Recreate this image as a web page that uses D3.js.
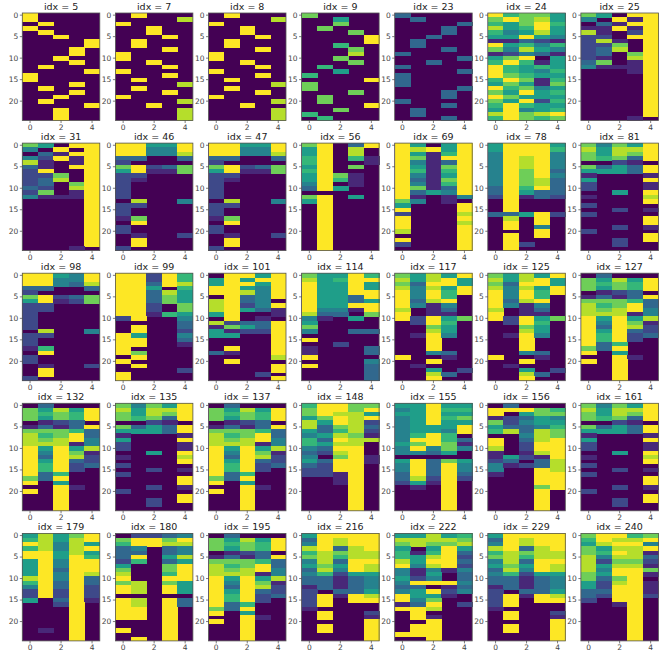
<!DOCTYPE html>
<html>
<head>
<meta charset="utf-8">
<script src="https://cdn.jsdelivr.net/npm/d3@7"></script>
<style>
  body { margin: 0; background: #fff; }
  svg { display: block; }
</style>
</head>
<body>
<svg id="chart"></svg>
<script>
// idx shown above each small heatmap, left to right, top to bottom
const idxList = [5, 7, 8, 9, 23, 24, 25,
                 31, 46, 47, 56, 69, 78, 81,
                 98, 99, 101, 114, 117, 125, 127,
                 132, 135, 137, 148, 155, 156, 161,
                 179, 180, 195, 216, 222, 229, 240];

// every grid: 25 rows (top -> bottom), 5 columns, colour level 0..9
const g5 = ["90000","90000","09000","90000","09000","00900","00009","00009","00090","00090","00900","00090","09000","00009","90000","90000","00090","09000","00090","00900","09000","00009","00900","00900","00900"];
const g7 = ["09000","00008","90000","00900","00900","00090","09000","09000","00090","90000","90000","00900","00090","90000","00090","09000","00008","09000","00090","90000","00008","00900","00008","00008","00008"];
const g8 = g7; // looks the same as idx 7
const g9 = ["70000","00500","00700","07000","00070","00009","00009","00600","00070","00080","00700","00070","06000","00500","60000","00009","70000","70000","00070","07000","07000","00009","00700","60000","06000"];
const g23 = ["30000","03000","00003","00030","00030","00300","03000","03000","00030","30000","00003","00300","30000","00003","30000","30000","30000","00003","00030","00030","30000","00030","03000","03000","00030"];
const g24 = ["96775","79785","65796","85695","64585","55954","11321","95646","74854","12431","57905","69615","96565","96546","97655","69716","57517","96745","75956","97555","75926","69655","59456","89789","69767"];
const g25 = ["75099","40919","03199","11919","81029","22099","28109","22709","23809","23079","21089","37019","41119","00019","00009","00009","00009","00009","00009","00009","00009","00009","00009","00009","00010"];
const g31 = ["75099","40909","03199","42919","81019","31099","29009","22709","23809","23079","32089","27019","41119","00009","00009","00009","00009","00009","00009","00009","00009","00009","00009","00009","00010"];
const g46 = ["99559","99449","99448","33003","20000","79237","59117","22000","21000","20000","20000","20000","20000","08004","22000","20000","20000","17000","09000","20000","20000","01002","09000","09000","20000"];
const g47 = g46;
const g56 = ["79039","59080","59080","69061","69001","59070","69000","59710","59610","49010","39500","00000","79050","59000","09000","09000","09000","09000","09000","09000","09000","09000","09000","09000","09000"];
const g69 = ["95059","98959","95169","97199","94139","95179","96169","94159","93179","94169","97139","93549","91014","74010","50009","90009","20008","90009","90008","90009","80009","00009","90009","20009","00009"];
const g78 = ["59995","59996","49994","49894","49894","49894","49793","49794","49783","49783","39693","39533","29132","09000","09000","09000","33592","08090","09090","09040","00090","09090","09000","09200","09000"];
const g81 = ["74759","85889","75879","76739","00210","73539","55539","10001","50009","20001","20001","00509","10008","00009","20000","00201","20000","00009","00009","00201","20000","00009","00209","00200","00000"];
const g98 = ["99549","99449","99438","33003","20000","79237","59127","22000","22000","20000","20000","20000","20000","08004","22000","20000","20000","16000","09000","20000","20000","01002","09000","09000","20000"];
const g99 = ["99296","99296","99398","99506","99385","99375","99375","99207","99207","99165","29004","00003","09003","09002","95004","99003","99001","90000","97000","09000","90000","09000","00002","90000","90000"];
const g101 = ["09959","59599","59959","99549","99849","09349","89340","89249","89531","59001","09010","82339","17539","51229","55009","00009","00009","09009","31009","00008","09000","00009","00009","00020","00009"];
const g114 = ["75596","85699","95595","95595","95599","95539","95535","95599","94419","83307","41050","50000","70000","40033","00000","90000","00200","10003","10003","90000","00004","90003","00003","00003","00003"];
const g117 = ["75859","85895","73995","84859","94969","94960","93890","94140","80130","90110","92957","02960","00750","00850","01940","00900","00900","00900","00430","90010","00900","01000","00502","00830","00900"];
const g125 = g117;
const g127 = ["03000","75859","76769","75769","01230","13139","77763","86793","87894","88814","95958","94971","93982","95932","96923","96920","93600","73900","90500","00910","90900","00900","00900","00900","00900"];
const g132 = g127;
const g135 = g81;
const g137 = g127;
const g148 = ["69977","79979","79885","57989","85982","83783","53682","45871","63988","65880","43990","32890","40791","53991","32990","22990","22190","00190","00190","00090","00090","00090","00090","00090","00090"];
const g155 = ["55955","45966","55955","45967","45955","45559","45549","46960","49963","57971","49474","44350","00000","59375","49394","49394","39393","38292","25190","01090","00090","00090","00090","00090","00090"];
const g156 = ["03000","99976","90577","12354","72455","53346","68387","00487","90389","90299","80299","10189","15219","23038","41238","40098","10099","00099","00099","00079","00090","00090","00090","00090","00090"];
const g161 = g81;
const g179 = ["58579","68589","98485","68489","99585","99596","59499","59499","59399","59498","89493","69393","49392","29292","29292","50391","00290","00090","00090","00090","00090","00090","01090","00090","00090"];
const g180 = ["02234","79979","69988","34034","33034","39058","26035","50079","70079","80069","90099","78075","98095","98095","00000","98093","98093","99090","99090","99090","00090","00090","90090","00090","09090"];
const g195 = g127;
const g216 = ["59999","39899","49899","89389","68788","78688","48399","57598","38498","46255","33134","33134","13134","20335","29198","29099","29000","10000","09002","09001","00009","09009","09009","00009","00009"];
const g222 = ["55856","88887","78778","50595","61693","65892","85993","94892","41414","41503","52403","49994","33013","45924","95510","94700","13902","99800","09000","09100","00900","09900","09900","99900","00900"];
const g229 = g216;
const g240 = ["79967","69889","58994","75889","76981","84883","82772","85881","84997","75991","73790","52891","52991","33991","32992","20990","00190","00090","00090","00090","00090","00090","00090","00090","00090"];

const grids = [g5, g7, g8, g9, g23, g24, g25,
               g31, g46, g47, g56, g69, g78, g81,
               g98, g99, g101, g114, g117, g125, g127,
               g132, g135, g137, g148, g155, g156, g161,
               g179, g180, g195, g216, g222, g229, g240];

const xTicks = [0, 2, 4];
const yTicks = [0, 5, 10, 15, 20];

const nCols = 7;
const panelW = 77.5, panelH = 107.5;
const left0 = 22.3, stepX = 93.1;
const top0 = 13, stepY = 130.1;

const svg = d3.select("#chart").attr("width", 664).attr("height", 654);

const x = d3.scaleBand().domain(d3.range(5)).range([0, panelW]);
const y = d3.scaleBand().domain(d3.range(25)).range([0, panelH]);
const color = d3.scaleSequential(d3.interpolateViridis).domain([0, 9]);

function styleAxis(sel) {
    sel.select(".domain").remove();
    sel.selectAll("line").attr("stroke", "#444").attr("stroke-width", 0.7);
    sel.selectAll("text")
        .attr("fill", "#444")
        .style("font-family", "DejaVu Sans, sans-serif")
        .style("font-size", "7.5px");
}

idxList.forEach((idx, i) => {
    const col = i % nCols, row = Math.floor(i / nCols);
    const g = svg.append("g")
        .attr("transform", `translate(${left0 + col * stepX}, ${top0 + row * stepY})`);

    const cells = grids[i].flatMap((s, r) => s.split("").map((v, c) => ({ r, c, v: +v })));

    // lowest colour underneath, the other cells on top
    g.append("rect")
        .attr("width", panelW)
        .attr("height", panelH)
        .attr("fill", color(0));

    g.selectAll("rect.cell")
        .data(cells.filter(d => d.v > 0))
        .join("rect")
        .attr("class", "cell")
        .attr("x", d => x(d.c))
        .attr("y", d => y(d.r))
        .attr("width", x.bandwidth() + 0.4)
        .attr("height", y.bandwidth() + 0.4)
        .attr("shape-rendering", "crispEdges")
        .attr("fill", d => color(d.v));

    g.append("rect")
        .attr("width", panelW)
        .attr("height", panelH)
        .attr("fill", "none")
        .attr("stroke", "#555")
        .attr("stroke-width", 0.8);

    g.append("g")
        .call(d3.axisLeft(y).tickValues(yTicks).tickSize(2.5).tickPadding(1.5))
        .call(styleAxis);

    g.append("g")
        .attr("transform", `translate(0, ${panelH})`)
        .call(d3.axisBottom(x).tickValues(xTicks).tickSize(2.5).tickPadding(1.5))
        .call(styleAxis);

    g.append("text")
        .attr("x", panelW / 2)
        .attr("y", -3.5)
        .attr("text-anchor", "middle")
        .attr("fill", "#222")
        .style("font-family", "DejaVu Sans, sans-serif")
        .style("font-size", "9.5px")
        .text(`idx = ${idx}`);
});
</script>
</body>
</html>
